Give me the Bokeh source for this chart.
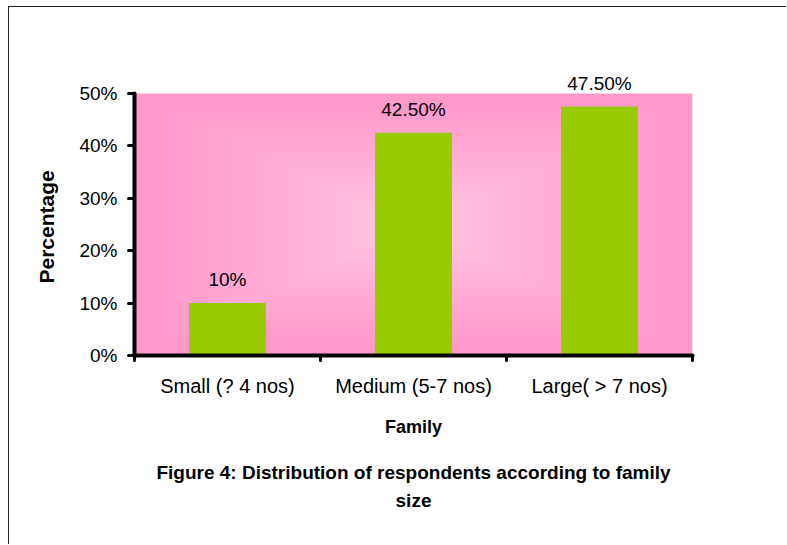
import numpy as np
from bokeh.plotting import figure
from bokeh.models import (Range1d, FixedTicker, NumeralTickFormatter, Title,
                          ColumnDataSource, LabelSet)
from bokeh.core.properties import value
from bokeh.embed import file_html
from bokeh.resources import INLINE

# ---- data ----
categories = ["Small (? 4 nos)", "Medium (5-7 nos)", "Large( > 7 nos)"]
shares = [0.10, 0.425, 0.475]
share_labels = ["10%", "42.50%", "47.50%"]
y_ticks = [0.0, 0.1, 0.2, 0.3, 0.4, 0.5]

x_axis_title = "Family"
y_axis_title = "Percentage"
caption_lines = ["Figure 4: Distribution of respondents according to family", "size"]

FONT = "Liberation Sans"
BAR_COLOR = "#99cc00"
n = len(categories)
xs = [i + 0.5 for i in range(n)]
y_max = y_ticks[-1]
# extra room above the axis so the value labels are not clipped
y_top = y_max * (302.0 / 262.0)

p = figure(width=778, height=538, output_backend="svg", toolbar_location=None,
           x_range=Range1d(0, n), y_range=Range1d(0, y_top),
           min_border_left=125, min_border_right=95, min_border_top=46,
           min_border_bottom=190, background_fill_color="white")
p.styles = {"margin-left": "8px", "margin-top": "6px",
            "border-left": "1px solid #222222", "border-top": "1px solid #222222"}
p.outline_line_color = None
p.xgrid.visible = False
p.ygrid.visible = False

# ---- rectangular gradient background of the plot area (style only) ----
H, W = 262, 558
uu = np.abs(np.linspace(-1, 1, W))[None, :]
vv = np.abs(np.linspace(-1, 1, H))[:, None]
d = np.clip(np.maximum(uu, vv) * 1.08, 0, 1)
t = d ** 0.9
center = np.array([255, 202, 229], dtype=float)
edge = np.array([255, 153, 204], dtype=float)
rgb = center[None, None, :] + (edge - center)[None, None, :] * t[:, :, None]
img = np.zeros((H, W), dtype=np.uint32)
view = img.view(dtype=np.uint8).reshape((H, W, 4))
view[:, :, 0] = rgb[:, :, 0].astype(np.uint8)
view[:, :, 1] = rgb[:, :, 1].astype(np.uint8)
view[:, :, 2] = rgb[:, :, 2].astype(np.uint8)
view[:, :, 3] = 255
p.image_rgba(image=[img], x=0, y=0, dw=n, dh=y_max)

# ---- bars ----
src = ColumnDataSource(dict(x=xs, top=shares, label=share_labels))
p.vbar(x="x", top="top", bottom=0, width=0.414, source=src,
       fill_color=BAR_COLOR, line_color=None)

labels = LabelSet(x="x", y="top", text="label", source=src, y_offset=17,
                  text_align="center", text_baseline="alphabetic",
                  text_font=value(FONT), text_font_size=value("19px"),
                  text_color="black")
p.add_layout(labels)

# ---- axes ----
xa = p.xaxis[0]
xa.ticker = FixedTicker(ticks=xs, minor_ticks=list(range(n + 1)))
xa.major_label_overrides = {x: c for x, c in zip(xs, categories)}
xa.major_tick_line_color = None
xa.major_tick_out = 5
xa.major_tick_in = 0
xa.minor_tick_line_color = "black"
xa.minor_tick_line_width = 3
xa.minor_tick_line_cap = "round"
xa.minor_tick_out = 5
xa.minor_tick_in = 0
xa.axis_line_width = 4
xa.axis_line_cap = "round"
xa.axis_line_color = "black"
xa.major_label_standoff = 14
xa.major_label_text_font = FONT
xa.major_label_text_font_size = "20px"
xa.major_label_text_color = "black"
xa.axis_label = x_axis_title
xa.axis_label_text_font = FONT
xa.axis_label_text_font_size = "18px"
xa.axis_label_text_font_style = "bold"
xa.axis_label_text_color = "black"
xa.axis_label_standoff = 17

ya = p.yaxis[0]
ya.bounds = (0, y_max)
ya.ticker = FixedTicker(ticks=y_ticks)
ya.formatter = NumeralTickFormatter(format="0%")
ya.minor_tick_line_color = None
ya.major_tick_line_color = "black"
ya.major_tick_line_width = 3
ya.major_tick_line_cap = "round"
ya.major_tick_out = 6
ya.major_tick_in = 0
ya.axis_line_width = 4
ya.axis_line_cap = "round"
ya.axis_line_color = "black"
ya.major_label_standoff = 11
ya.major_label_text_font = FONT
ya.major_label_text_font_size = "19px"
ya.major_label_text_color = "black"

# y axis title, placed along the 0-50% part of the axis
ytitle = Title(text=y_axis_title, align="left", offset=72, standoff=38,
               text_font=FONT, text_font_size="21px", text_font_style="bold",
               text_color="black")
p.add_layout(ytitle, "left")

# ---- caption below (spacer, then two centred lines) ----
spacer = Title(text=" ", align="center", text_font=FONT, text_font_size="14px",
               text_color="white", standoff=2)
p.add_layout(spacer, "below")
for i, line in enumerate(caption_lines):
    tt = Title(text=line, align="center", text_font=FONT, text_font_size="19px",
               text_font_style="bold", text_color="black",
               standoff=0 if i == 0 else 11)
    p.add_layout(tt, "below")

open("out.html", "w").write(file_html(p, INLINE))
